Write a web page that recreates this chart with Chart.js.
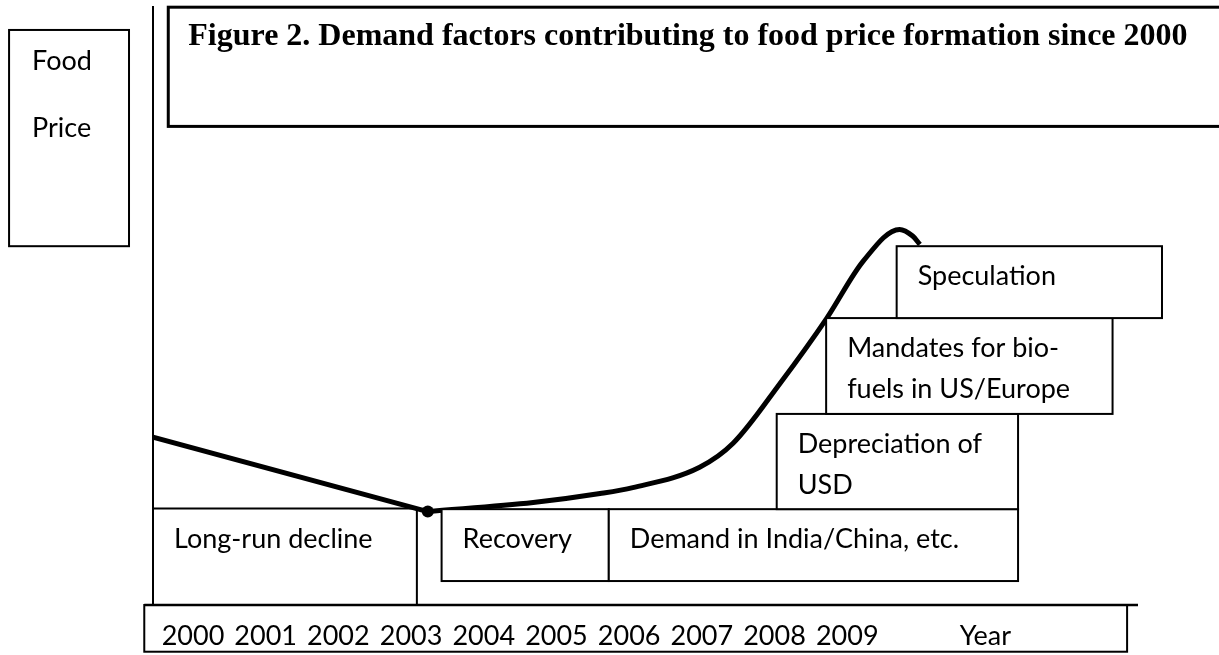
<!DOCTYPE html>
<html>
<head>
<meta charset="utf-8">
<title>Figure 2</title>
<script src="https://cdn.jsdelivr.net/npm/chart.js@4.4.0/dist/chart.umd.min.js"></script>
<style>
  html, body { margin: 0; padding: 0; background: #fff; }
  #wrap { position: relative; width: 1219px; height: 655px; }
</style>
</head>
<body>
<div id="wrap"><canvas id="grafico"></canvas></div>
<script>
// --- data ---
const yearTicks = [2000, 2001, 2002, 2003, 2004, 2005, 2006, 2007, 2008, 2009];
const xAxisName = "Year";
const yAxisName = ["Food", "Price"];
const figureTitle = "Figure 2. Demand factors contributing to food price formation since 2000";

// long-run decline (straight segment)
const declineYears = [1999.45, 2003.23];
const declinePrice = [28.0, 15.6];

// recovery and the run-up to the peak (smooth curve)
const riseYears = [2003.23, 2004.68, 2005.60, 2006.05, 2006.97, 2007.43, 2008.07, 2008.72, 2009.22, 2009.72, 2009.90, 2010.00];
const risePrice = [15.6, 17.1, 18.6, 19.6, 23.0, 27.0, 36.9, 47.9, 57.4, 62.7, 61.6, 60.2];

const factorLabels = [
    ["Long-run decline"],
    ["Recovery"],
    ["Demand in India/China, etc."],
    ["Depreciation of", "USD"],
    ["Mandates for bio-", "fuels in US/Europe"],
    ["Speculation"]
];

// --- layout (in axis units) ---
const factorBoxes = [
    {x0: 1999.45, x1: 2003.08, y0: 0.0,  y1: 16.1},
    {x0: 2003.42, x1: 2005.72, y0: 4.0,  y1: 16.0},
    {x0: 2005.72, x1: 2011.35, y0: 4.0,  y1: 16.0},
    {x0: 2008.03, x1: 2011.35, y0: 16.0, y1: 31.9},
    {x0: 2008.71, x1: 2012.65, y0: 31.9, y1: 47.9},
    {x0: 2009.68, x1: 2013.33, y0: 47.9, y1: 59.9}
];
const yearBox = {x0: 1999.33, x1: 2012.85, y0: -7.8, y1: 0};
const titleBox = {x0: 1999.66, x1: 2014.5, y0: 79.9, y1: 99.8};
const nameBox = {x0: 1997.47, x1: 1999.12, y0: 59.9, y1: 96.0};
const yearNamePos = 2010.9;

const bodyFont = "27px Lato, 'Open Sans', sans-serif";
const titleFont = "bold 32px 'Liberation Serif', 'Times New Roman', serif";

function toPoints(xs, ys) {
    return xs.map(function (x, i) { return {x: x, y: ys[i]}; });
}

function boxPx(chart, b) {
    const sx = chart.scales.x, sy = chart.scales.y;
    return {
        left: sx.getPixelForValue(b.x0), right: sx.getPixelForValue(b.x1),
        top: sy.getPixelForValue(b.y1), bottom: sy.getPixelForValue(b.y0)
    };
}

function drawBox(ctx, r, width) {
    ctx.fillStyle = "#fff";
    ctx.fillRect(r.left, r.top, r.right - r.left, r.bottom - r.top);
    ctx.lineWidth = width;
    ctx.strokeStyle = "#000";
    ctx.strokeRect(r.left, r.top, r.right - r.left, r.bottom - r.top);
}

function drawLines(ctx, lines, x, y, step) {
    ctx.fillStyle = "#000";
    lines.forEach(function (t, i) { ctx.fillText(t, x, y + i * step); });
}

// boxes, axes and labels
const figurePlugin = {
    id: "figurePlugin",
    afterDatasetsDraw: function (chart) {
        const ctx = chart.ctx;
        const sx = chart.scales.x, sy = chart.scales.y;
        const area = chart.chartArea;
        ctx.save();
        ctx.textBaseline = "alphabetic";
        ctx.textAlign = "left";

        // factor boxes
        ctx.font = bodyFont;
        factorBoxes.forEach(function (b, i) {
            const r = boxPx(chart, b);
            if (i === 0) {
                // first one sits on the axes: only top and right edges
                ctx.lineWidth = 2;
                ctx.strokeStyle = "#000";
                ctx.beginPath();
                ctx.moveTo(r.left, r.top);
                ctx.lineTo(r.right, r.top);
                ctx.lineTo(r.right, r.bottom);
                ctx.stroke();
            } else {
                drawBox(ctx, r, 2);
            }
            drawLines(ctx, factorLabels[i], r.left + 21, r.top + 39, 41);
        });

        // y axis
        const x0 = sx.getPixelForValue(sx.min);
        ctx.lineWidth = 2;
        ctx.strokeStyle = "#000";
        ctx.beginPath();
        ctx.moveTo(x0, area.top);
        ctx.lineTo(x0, area.bottom);
        ctx.stroke();

        // year strip
        const yb = boxPx(chart, yearBox);
        ctx.lineWidth = 2;
        ctx.strokeRect(yb.left, yb.top, yb.right - yb.left, yb.bottom - yb.top);
        ctx.lineWidth = 2.5;
        ctx.beginPath();
        ctx.moveTo(yb.left, area.bottom);
        ctx.lineTo(area.right, area.bottom);
        ctx.stroke();

        ctx.font = bodyFont;
        ctx.textAlign = "center";
        ctx.fillStyle = "#000";
        yearTicks.forEach(function (yr) {
            ctx.fillText(String(yr), sx.getPixelForValue(yr), yb.top + 40);
        });
        ctx.fillText(xAxisName, sx.getPixelForValue(yearNamePos), yb.top + 40);
        ctx.textAlign = "left";

        // y axis name
        const nb = boxPx(chart, nameBox);
        drawBox(ctx, nb, 2);
        ctx.font = bodyFont;
        drawLines(ctx, yAxisName, nb.left + 23, nb.top + 40, 67);

        // title
        const tb = boxPx(chart, titleBox);
        drawBox(ctx, tb, 3);
        ctx.font = titleFont;
        ctx.fillStyle = "#000";
        ctx.fillText(figureTitle, tb.left + 20, tb.top + 38);

        ctx.restore();
    }
};

const ctx = document.getElementById("grafico");

new Chart(ctx, {
    type: "line",
    data: {
        datasets: [
            {
                data: toPoints(declineYears, declinePrice),
                borderColor: "#000",
                borderWidth: 5,
                tension: 0,
                pointRadius: 0
            },
            {
                data: toPoints(riseYears, risePrice),
                borderColor: "#000",
                borderWidth: 5,
                cubicInterpolationMode: "monotone",
                pointRadius: riseYears.map(function (v, i) { return i === 0 ? 6 : 0; }),
                pointBackgroundColor: "#000",
                pointBorderWidth: 0
            }
        ]
    },
    options: {
        responsive: true,
        maintainAspectRatio: false,
        animation: false,
        events: [],
        layout: { padding: { left: 153, right: 81, top: 4, bottom: 50 } },
        scales: {
            x: { type: "linear", min: 1999.45, max: 2013, display: false },
            y: { type: "linear", min: 0, max: 100, display: false }
        },
        plugins: {
            legend: { display: false },
            tooltip: { enabled: false },
            title: { display: false }
        }
    },
    plugins: [figurePlugin]
});
</script>
</body>
</html>
